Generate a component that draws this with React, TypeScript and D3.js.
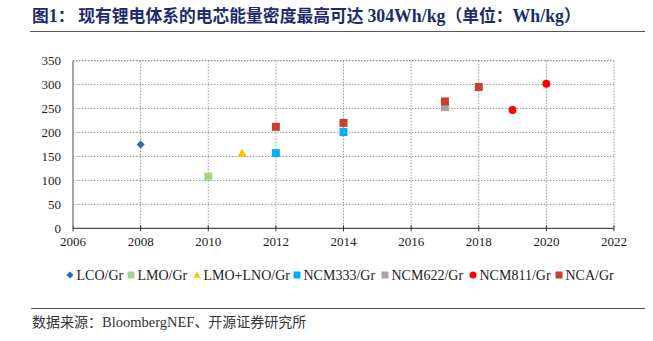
import React from "react";
import * as d3 from "d3";

const W = 653, H = 341;
const xTicks = [2006, 2008, 2010, 2012, 2014, 2016, 2018, 2020, 2022];
const yTicks = [0, 50, 100, 150, 200, 250, 300, 350];

const seriesNames = ["LCO/Gr", "LMO/Gr", "LMO+LNO/Gr", "NCM333/Gr", "NCM622/Gr", "NCM811/Gr", "NCA/Gr"];
const seriesColors = ["#1F6FC0", "#A9D18E", "#FFC000", "#00B0F0", "#A5A5A5", "#FF0000", "#C8412E"];
const seriesShapes = ["diamond", "square", "triangle", "square", "square", "circle", "square"];

const lcoYears = [2008]; const lcoVals = [175];
const lmoYears = [2010]; const lmoVals = [108];
const lnoYears = [2011]; const lnoVals = [157];
const ncm333Years = [2012, 2014]; const ncm333Vals = [157, 201];
const ncm622Years = [2017]; const ncm622Vals = [253];
const ncm811Years = [2019, 2020]; const ncm811Vals = [247, 302];
const ncaYears = [2012, 2014, 2017, 2018]; const ncaVals = [212, 220, 265, 295];

const seriesYears = [lcoYears, lmoYears, lnoYears, ncm333Years, ncm622Years, ncm811Years, ncaYears];
const seriesVals = [lcoVals, lmoVals, lnoVals, ncm333Vals, ncm622Vals, ncm811Vals, ncaVals];

const legendMarkerX = [70, 131, 197, 297, 385, 473, 559];

function Marker({ shape, x, y, color, s }: { shape: string; x: number; y: number; color: string; s: number }) {
  if (shape === "square") return <rect x={x - s / 2} y={y - s / 2} width={s} height={s} fill={color} />;
  if (shape === "circle") return <circle cx={x} cy={y} r={s / 2} fill={color} />;
  if (shape === "diamond") {
    const r = s / 2;
    return <path d={`M${x},${y - r}L${x + r},${y}L${x},${y + r}L${x - r},${y}Z`} fill={color} />;
  }
  const r = s / 2;
  return <path d={`M${x},${y - r}L${x + r},${y + r * 0.8}L${x - r},${y + r * 0.8}Z`} fill={color} />;
}

export default function App() {
  const x = d3.scaleLinear().domain([2006, 2022]).range([73, 614]);
  const y = d3.scaleLinear().domain([0, 350]).range([228.3, 60.7]);
  const serif = "'Liberation Serif', 'Times New Roman', serif";
  const cjk = "'Noto Sans CJK SC', sans-serif";

  return (
    <svg width={W} height={H} style={{ position: "absolute", left: 0, top: 0 }}>
      <rect width={W} height={H} fill="#fff" />
      <text x={32} y={22} fontSize={16.8} fontWeight="bold" fill="#1F2A6E" fontFamily={cjk}>
        图<tspan fontFamily={serif} fontSize={17.8}>1</tspan>： 现有锂电体系的电芯能量密度最高可达 <tspan fontFamily={serif} fontSize={17.8}>304Wh/kg</tspan>（单位：<tspan fontFamily={serif} fontSize={17.8}>Wh/kg</tspan>）
      </text>
      <line x1={30} x2={645} y1={31.5} y2={31.5} stroke="#555" strokeWidth={1.2} />

      {yTicks.map((t) => (
        <g key={"y" + t}>
          {t > 0 && <line x1={73} x2={614} y1={y(t)} y2={y(t)} stroke="#999" strokeDasharray="1.5,1.5" strokeWidth={1} />}
          <text x={61} y={y(t) + 4.5} textAnchor="end" fontSize={13} fontFamily={serif} fill="#222">{t}</text>
        </g>
      ))}
      {xTicks.map((t) => (
        <g key={"x" + t}>
          {t > 2006 && <line x1={x(t)} x2={x(t)} y1={y(350)} y2={y(0)} stroke="#999" strokeDasharray="1.5,1.5" strokeWidth={1} />}
          <line x1={x(t)} x2={x(t)} y1={y(0) - 3} y2={y(0) + 3} stroke="#333" strokeWidth={1} />
          <text x={x(t)} y={y(0) + 18} textAnchor="middle" fontSize={13} fontFamily={serif} fill="#222">{t}</text>
        </g>
      ))}
      <line x1={73} x2={614} y1={y(350)} y2={y(350)} stroke="#999" strokeDasharray="1.5,1.5" />
      <line x1={73} x2={73} y1={y(350)} y2={y(0)} stroke="#888" strokeWidth={1.5} />
      <line x1={73} x2={614} y1={y(0)} y2={y(0)} stroke="#222" strokeWidth={1} />

      {seriesYears.map((ys, i) =>
        ys.map((yr, j) => (
          <Marker key={i + "-" + j} shape={seriesShapes[i]} x={x(yr)} y={y(seriesVals[i][j])} color={seriesColors[i]} s={seriesShapes[i] === "triangle" ? 9 : 8} />
        ))
      )}

      {seriesNames.map((n, i) => (
        <g key={"l" + i}>
          <Marker shape={seriesShapes[i]} x={legendMarkerX[i]} y={275} color={seriesColors[i]} s={7} />
          <text x={legendMarkerX[i] + 6.5} y={280} fontSize={14} fontFamily={serif} fill="#222">{n}</text>
        </g>
      ))}

      <line x1={31} x2={645} y1={308.5} y2={308.5} stroke="#555" strokeWidth={1} />
      <text x={32} y={327} fontSize={14} fontFamily={cjk} fill="#333">
        数据来源：<tspan fontFamily={serif} fontSize={14.5}>BloombergNEF</tspan>、开源证券研究所
      </text>
    </svg>
  );
}
